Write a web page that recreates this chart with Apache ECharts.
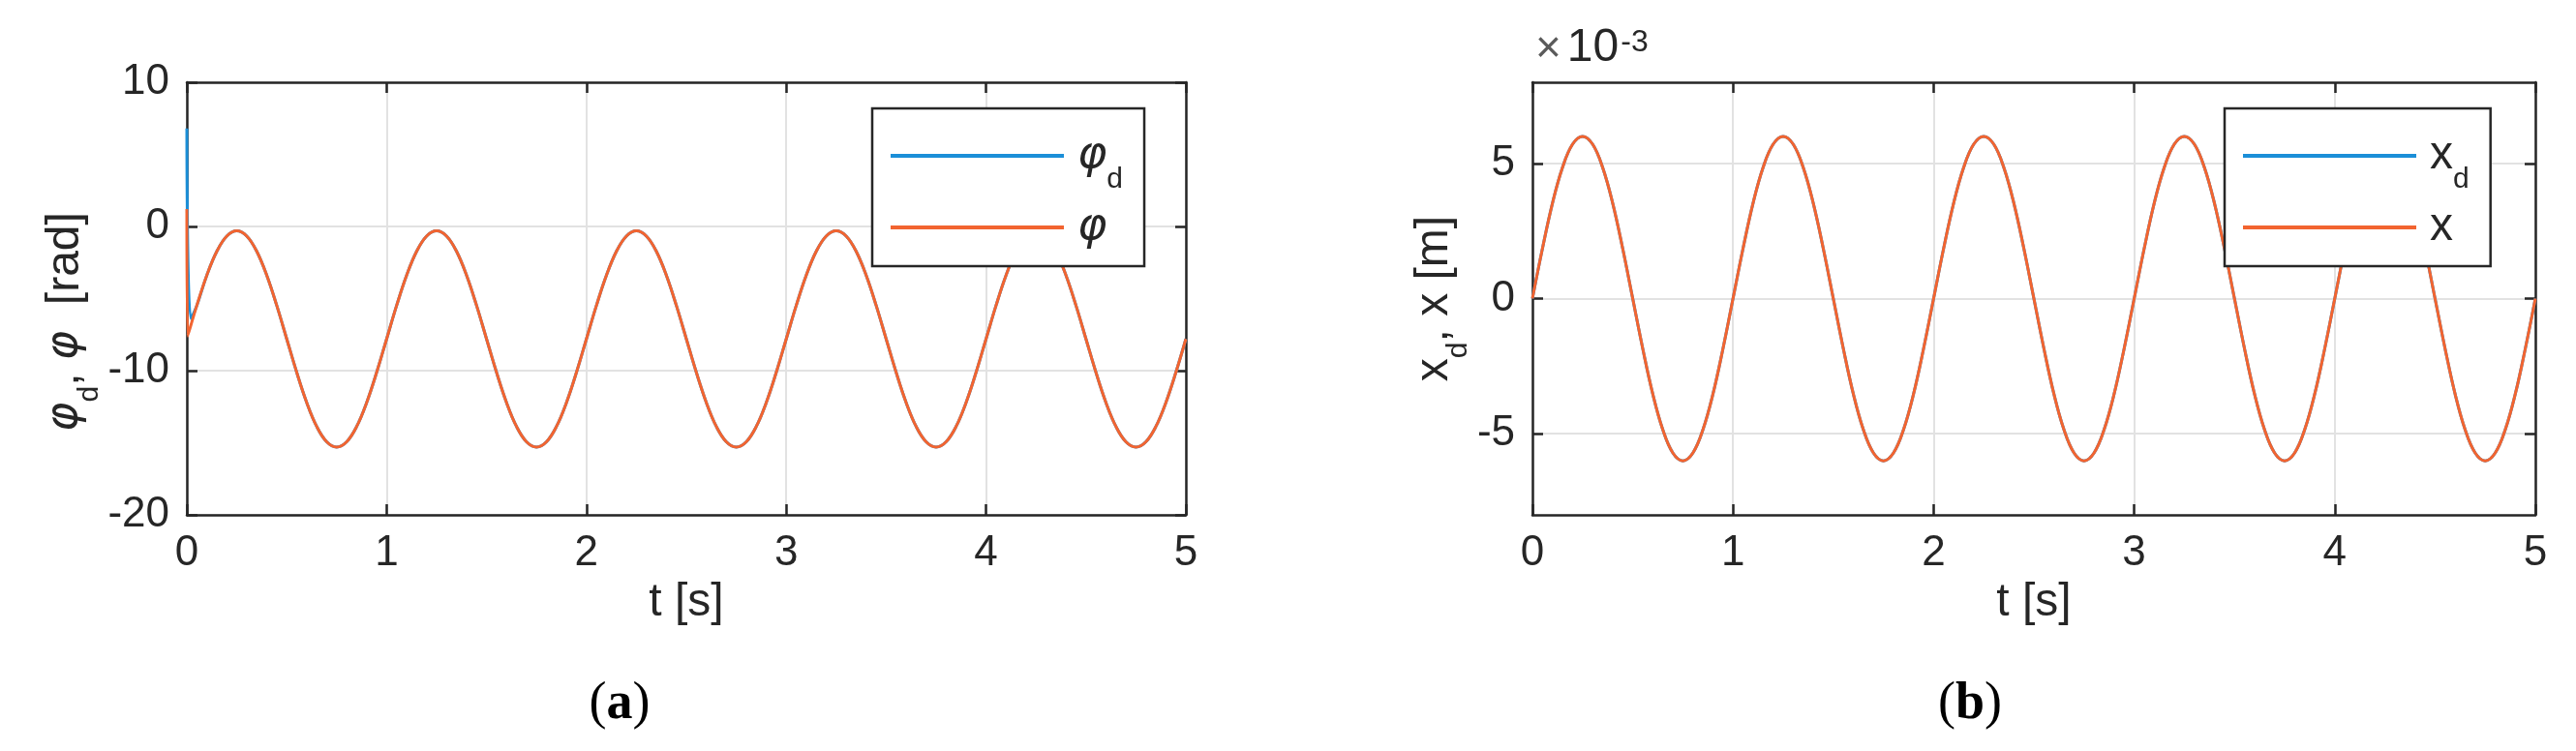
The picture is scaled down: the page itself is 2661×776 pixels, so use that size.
<!DOCTYPE html>
<html>
<head>
<meta charset="utf-8">
<title>φ and x traces</title>
<script src="https://cdn.jsdelivr.net/npm/echarts@6.0.0/dist/echarts.min.js"></script>
<style>
  html, body { margin: 0; padding: 0; background: #fff; }
  #chart { width: 2661px; height: 776px; }
</style>
</head>
<body>
<div id="chart"></div>
<script>
'use strict';

// sampling step of the traces [s]
var tStep = 0.05;

// (a) first samples (t, value) before the traces join the wave
var phiDStart = [[0, 6.8], [0.02, -6.4]];
var phiStart = [[0, 1.2], [0.004, -7.6]];

// (a) angle [rad], t = 0.05 ... 5 s
var phiDVals = [
  -5.48, -3.39, -1.73, -0.67, -0.3, -0.67, -1.73, -3.39, -5.48, -7.8, -10.12, -12.21, -13.87, -14.93, -15.3, -14.93, -13.87, -12.21, -10.12, -7.8,
  -5.48, -3.39, -1.73, -0.67, -0.3, -0.67, -1.73, -3.39, -5.48, -7.8, -10.12, -12.21, -13.87, -14.93, -15.3, -14.93, -13.87, -12.21, -10.12, -7.8,
  -5.48, -3.39, -1.73, -0.67, -0.3, -0.67, -1.73, -3.39, -5.48, -7.8, -10.12, -12.21, -13.87, -14.93, -15.3, -14.93, -13.87, -12.21, -10.12, -7.8,
  -5.48, -3.39, -1.73, -0.67, -0.3, -0.67, -1.73, -3.39, -5.48, -7.8, -10.12, -12.21, -13.87, -14.93, -15.3, -14.93, -13.87, -12.21, -10.12, -7.8,
  -5.48, -3.39, -1.73, -0.67, -0.3, -0.67, -1.73, -3.39, -5.48, -7.8, -10.12, -12.21, -13.87, -14.93, -15.3, -14.93, -13.87, -12.21, -10.12, -7.8
];
var phiVals = [
  -5.48, -3.39, -1.73, -0.67, -0.3, -0.67, -1.73, -3.39, -5.48, -7.8, -10.12, -12.21, -13.87, -14.93, -15.3, -14.93, -13.87, -12.21, -10.12, -7.8,
  -5.48, -3.39, -1.73, -0.67, -0.3, -0.67, -1.73, -3.39, -5.48, -7.8, -10.12, -12.21, -13.87, -14.93, -15.3, -14.93, -13.87, -12.21, -10.12, -7.8,
  -5.48, -3.39, -1.73, -0.67, -0.3, -0.67, -1.73, -3.39, -5.48, -7.8, -10.12, -12.21, -13.87, -14.93, -15.3, -14.93, -13.87, -12.21, -10.12, -7.8,
  -5.48, -3.39, -1.73, -0.67, -0.3, -0.67, -1.73, -3.39, -5.48, -7.8, -10.12, -12.21, -13.87, -14.93, -15.3, -14.93, -13.87, -12.21, -10.12, -7.8,
  -5.48, -3.39, -1.73, -0.67, -0.3, -0.67, -1.73, -3.39, -5.48, -7.8, -10.12, -12.21, -13.87, -14.93, -15.3, -14.93, -13.87, -12.21, -10.12, -7.8
];

// (b) position [x 10^-3 m], t = 0 ... 5 s
var xdVals = [
  0, 1.85, 3.53, 4.85, 5.71, 6.0, 5.71, 4.85, 3.53, 1.85, 0, -1.85, -3.53, -4.85, -5.71, -6.0, -5.71, -4.85, -3.53, -1.85,
  0, 1.85, 3.53, 4.85, 5.71, 6.0, 5.71, 4.85, 3.53, 1.85, 0, -1.85, -3.53, -4.85, -5.71, -6.0, -5.71, -4.85, -3.53, -1.85,
  0, 1.85, 3.53, 4.85, 5.71, 6.0, 5.71, 4.85, 3.53, 1.85, 0, -1.85, -3.53, -4.85, -5.71, -6.0, -5.71, -4.85, -3.53, -1.85,
  0, 1.85, 3.53, 4.85, 5.71, 6.0, 5.71, 4.85, 3.53, 1.85, 0, -1.85, -3.53, -4.85, -5.71, -6.0, -5.71, -4.85, -3.53, -1.85,
  0, 1.85, 3.53, 4.85, 5.71, 6.0, 5.71, 4.85, 3.53, 1.85, 0, -1.85, -3.53, -4.85, -5.71, -6.0, -5.71, -4.85, -3.53, -1.85,
  0
];
var xVals = [
  0, 1.85, 3.53, 4.85, 5.71, 6.0, 5.71, 4.85, 3.53, 1.85, 0, -1.85, -3.53, -4.85, -5.71, -6.0, -5.71, -4.85, -3.53, -1.85,
  0, 1.85, 3.53, 4.85, 5.71, 6.0, 5.71, 4.85, 3.53, 1.85, 0, -1.85, -3.53, -4.85, -5.71, -6.0, -5.71, -4.85, -3.53, -1.85,
  0, 1.85, 3.53, 4.85, 5.71, 6.0, 5.71, 4.85, 3.53, 1.85, 0, -1.85, -3.53, -4.85, -5.71, -6.0, -5.71, -4.85, -3.53, -1.85,
  0, 1.85, 3.53, 4.85, 5.71, 6.0, 5.71, 4.85, 3.53, 1.85, 0, -1.85, -3.53, -4.85, -5.71, -6.0, -5.71, -4.85, -3.53, -1.85,
  0, 1.85, 3.53, 4.85, 5.71, 6.0, 5.71, 4.85, 3.53, 1.85, 0, -1.85, -3.53, -4.85, -5.71, -6.0, -5.71, -4.85, -3.53, -1.85,
  0
];

// axis ranges and ticks
var tRange = [0, 5];
var tInterval = 1;
var phiRange = [-20, 10];
var phiInterval = 10;
var xRange = [-8, 8];
var xTicks = [-5, 0, 5];

var FONT = '"Liberation Sans", Arial, Helvetica, sans-serif';
var GREEK = '"DejaVu Sans", sans-serif';
var SERIF = '"Liberation Serif", "DejaVu Serif", serif';
var AX = '#262626';
var GRIDC = '#e2e2e2';
var BLUE = '#1b8fd8';
var ORANGE = '#f26430';

// text with a subscript
var subRich = {
  n: { fontSize: 48, lineHeight: 48, fontFamily: FONT, color: AX },
  f: { fontSize: 48, lineHeight: 48, fontFamily: FONT, color: AX, padding: [0, 0, 0, 9] },
  g: { fontSize: 46, lineHeight: 48, fontFamily: GREEK, fontStyle: 'italic', color: AX },
  h: { fontSize: 46, lineHeight: 48, fontFamily: GREEK, fontStyle: 'italic', color: AX, padding: [0, 0, 0, 9] },
  s: { fontSize: 30, lineHeight: 30, fontFamily: FONT, color: AX, padding: [50, 0, 0, 0] }
};

var legendText = {
  'φd': '{h|φ}{s|d}',
  'φ': '{h|φ}{s| }',
  'xd': '{f|x}{s|d}',
  'x': '{f|x}{s| }'
};

function trace(start, vals, t0) {
  var pts = start.slice();
  vals.forEach(function (v, i) {
    pts.push([+(t0 + i * tStep).toFixed(4), v]);
  });
  return pts;
}

function boxLine() {
  return { show: true, onZero: false, lineStyle: { color: AX, width: 2.5 } };
}

function ticks(custom) {
  var t = { show: true, inside: true, length: 11, lineStyle: { color: AX, width: 2.5 } };
  if (custom) t.customValues = custom;
  return t;
}

function tAxis(grid, main) {
  return {
    type: 'value', gridIndex: grid, position: main ? 'bottom' : 'top',
    min: tRange[0], max: tRange[1], interval: tInterval,
    axisLine: boxLine(), axisTick: ticks(),
    axisLabel: { show: main, fontSize: 44, fontFamily: FONT, color: AX, margin: 18 },
    splitLine: { show: main, lineStyle: { color: GRIDC, width: 2 } },
    name: main ? 't [s]' : '', nameLocation: 'middle', nameGap: 64,
    nameTextStyle: { fontSize: 48, fontFamily: FONT, color: AX }
  };
}

function legendFor(names, left) {
  return {
    data: names, orient: 'vertical', left: left, top: 112,
    icon: 'rect', itemWidth: 179, itemHeight: 4, itemGap: -6,
    padding: [9, 22, 0, 19],
    borderColor: AX, borderWidth: 2.5, backgroundColor: '#fff',
    selectedMode: false,
    formatter: function (name) { return legendText[name]; },
    textStyle: { rich: subRich }
  };
}

function line(name, color, xi, data) {
  return {
    name: name, type: 'line', xAxisIndex: xi, yAxisIndex: xi,
    data: data, symbol: 'none', showSymbol: false, smooth: 0.4,
    lineStyle: { color: color, width: 3 }, itemStyle: { color: color },
    emphasis: { disabled: true }, animation: false
  };
}

var captionRich = {
  p: { fontSize: 54, lineHeight: 56, fontFamily: SERIF, fontWeight: 'normal', color: '#000' },
  b: { fontSize: 54, lineHeight: 56, fontFamily: SERIF, fontWeight: 'bold', color: '#000' }
};

var chart = echarts.init(document.getElementById('chart'));

chart.setOption({
  backgroundColor: '#fff',
  animation: false,
  title: [
    {
      text: '{p|(}{b|a}{p|)}', left: 640, top: 700, textAlign: 'center', padding: 0,
      textStyle: { fontWeight: 'normal', rich: captionRich }
    },
    {
      text: '{p|(}{b|b}{p|)}', left: 2035, top: 700, textAlign: 'center', padding: 0,
      textStyle: { fontWeight: 'normal', rich: captionRich }
    },
    {
      text: '{m|×}{n|10}{e|-3}', left: 1586, top: 28, padding: 0,
      textStyle: { fontWeight: 'normal', rich: {
        m: { fontSize: 46, lineHeight: 46, fontFamily: FONT, fontWeight: 'normal', color: '#5a5a5a', verticalAlign: 'bottom', padding: [0, 6, 0, 0] },
        n: { fontSize: 48, lineHeight: 46, fontFamily: FONT, fontWeight: 'normal', color: AX, verticalAlign: 'bottom' },
        e: { fontSize: 32, lineHeight: 32, fontFamily: FONT, fontWeight: 'normal', color: AX, verticalAlign: 'top', padding: [0, 0, 24, 2] }
      } }
    }
  ],
  legend: [
    legendFor(['φd', 'φ'], 901),
    legendFor(['xd', 'x'], 2298)
  ],
  grid: [
    { left: 193, top: 85, width: 1032, height: 447, containLabel: false, outerBoundsMode: 'none' },
    { left: 1583, top: 85, width: 1036, height: 447, containLabel: false, outerBoundsMode: 'none' }
  ],
  xAxis: [tAxis(0, true), tAxis(0, false), tAxis(1, true), tAxis(1, false)],
  yAxis: [
    {
      type: 'value', gridIndex: 0, position: 'left',
      min: phiRange[0], max: phiRange[1], interval: phiInterval,
      axisLine: boxLine(), axisTick: ticks(),
      axisLabel: { fontSize: 44, fontFamily: FONT, color: AX, margin: 18 },
      splitLine: { show: true, lineStyle: { color: GRIDC, width: 2 } },
      name: '{g|φ}{s|d}{n|, }{g|φ}{n|  [rad]}', nameLocation: 'middle', nameGap: 93,
      nameTextStyle: { rich: subRich, padding: [0, 48, 0, 0] }
    },
    {
      type: 'value', gridIndex: 0, position: 'right',
      min: phiRange[0], max: phiRange[1], interval: phiInterval,
      axisLine: boxLine(), axisTick: ticks(),
      axisLabel: { show: false }, splitLine: { show: false }
    },
    {
      type: 'value', gridIndex: 1, position: 'left',
      min: xRange[0], max: xRange[1],
      axisLine: boxLine(), axisTick: ticks(xTicks),
      axisLabel: { fontSize: 44, fontFamily: FONT, color: AX, margin: 18, customValues: xTicks },
      splitLine: { show: true, lineStyle: { color: GRIDC, width: 2 } },
      name: '{n|x}{s|d}{n|, x [m]}', nameLocation: 'middle', nameGap: 71,
      nameTextStyle: { rich: subRich }
    },
    {
      type: 'value', gridIndex: 1, position: 'right',
      min: xRange[0], max: xRange[1],
      axisLine: boxLine(), axisTick: ticks(xTicks),
      axisLabel: { show: false }, splitLine: { show: false }
    }
  ],
  series: [
    line('φd', BLUE, 0, trace(phiDStart, phiDVals, tStep)),
    line('φ', ORANGE, 0, trace(phiStart, phiVals, tStep)),
    line('xd', BLUE, 2, trace([], xdVals, 0)),
    line('x', ORANGE, 2, trace([], xVals, 0))
  ]
});
</script>
</body>
</html>
